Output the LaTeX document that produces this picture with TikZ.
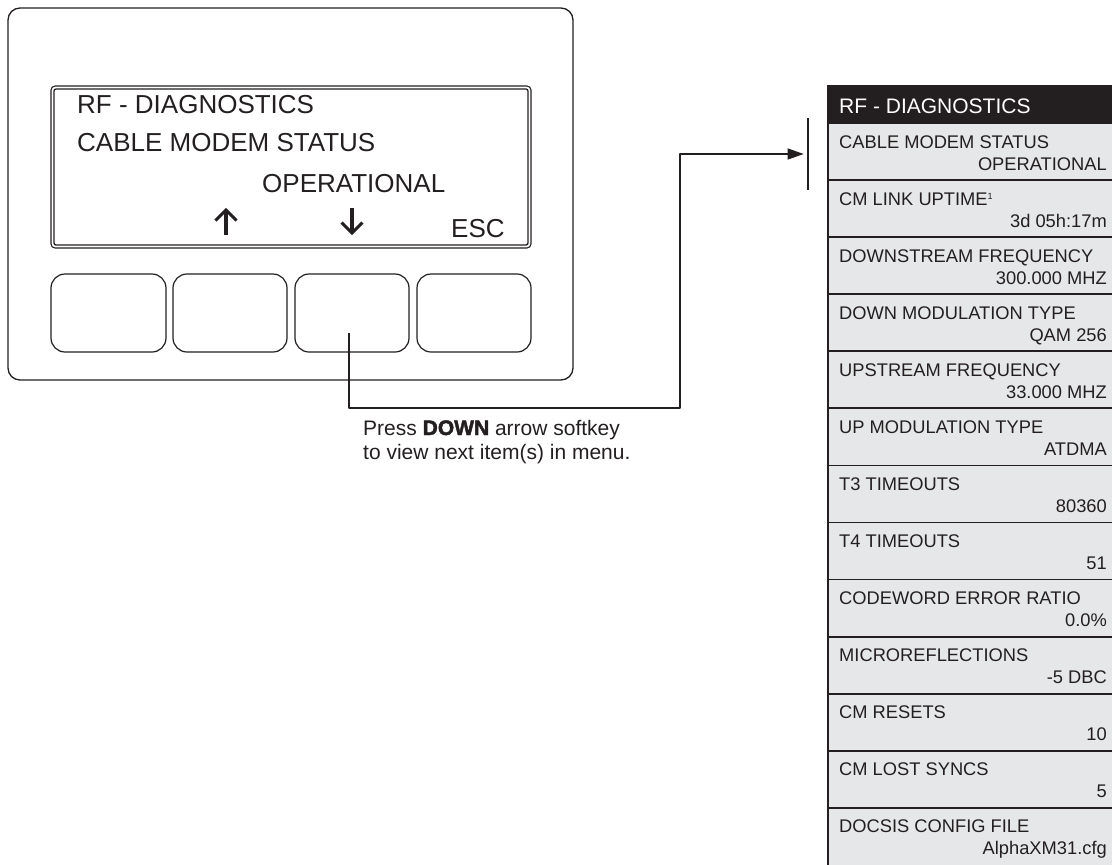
\documentclass[tikz,border=0pt]{standalone}
\usepackage{fontspec}
\setmainfont{Liberation Sans}
\usetikzlibrary{arrows.meta}
\definecolor{ink}{HTML}{231F20}
\definecolor{rowgray}{HTML}{E6E7E8}
\tikzset{
  devline/.style={draw=ink, line width=1.3pt},
  btn/.style={draw=ink, line width=1.2pt, rounded corners=14pt, minimum width=114pt, minimum height=78pt, inner sep=0pt, outer sep=0pt},
  scr/.style={text=ink, font=\fontsize{26}{30}\selectfont, inner sep=0pt},
  arr/.style={draw=ink, line width=3.1pt, line cap=butt, line join=miter},
  conn/.style={draw=ink, line width=1.2pt, -{Triangle[length=16pt,width=11pt]}},
  rowbox/.style={fill=rowgray, draw=none, minimum width=285pt, minimum height=57.07pt, inner sep=0pt, outer sep=0pt, anchor=north west},
  rowtxt/.style={text=ink, font=\fontsize{18.3}{22}\selectfont, inner sep=0pt},
  sep/.style={draw=ink, line width=1.8pt},
  lbltxt/.style={text=ink, font=\fontsize{21}{25}\selectfont, inner sep=0pt, anchor=base west}
}
\begin{document}
\begin{tikzpicture}[x=1pt,y=-1pt,line join=round]
\useasboundingbox (0,0) rectangle (1112,865);
% device
\draw[devline, rounded corners=12pt] (8,8) rectangle (573,380);
% screen double border
\draw[draw=ink, line width=1.1pt, rounded corners=4pt] (51,86) rectangle (531,248);
\draw[draw=ink, line width=1.3pt, rounded corners=2pt] (54,89) rectangle (528,245);
% screen text
\node[scr, anchor=base west] (s1) at (77,113) {RF - DIAGNOSTICS};
\node[scr, anchor=base west] (s2) at (77,151) {CABLE MODEM STATUS};
\node[scr, anchor=base west] (s3) at (262,192) {OPERATIONAL};
\node[scr, anchor=base west] (s4) at (451,237) {ESC};
% up / down arrow symbols
\draw[arr] (226,235) -- (226,210);
\draw[arr] (215.5,220.5) -- (226,210) -- (236.5,220.5);
\draw[arr] (352,208) -- (352,233);
\draw[arr] (341.5,222.5) -- (352,233) -- (362.5,222.5);
% buttons
\node[btn, minimum width=115pt] (b1) at (108.5,313) {};
\node[btn] (b2) at (230,313) {};
\node[btn] (b3) at (352,313) {};
\node[btn] (b4) at (474,313) {};
% right panel
\node[fill=ink, minimum width=285pt, minimum height=38pt, inner sep=0pt, outer sep=0pt, anchor=north west] (hdr) at (827,85) {};
\node[text=white, font=\fontsize{21}{25}\selectfont, inner sep=0pt, anchor=base west] (hdrtxt) at (839,113) {RF - DIAGNOSTICS};
\foreach \lab/\val [count=\i from 0] in {
  {CABLE MODEM STATUS}/{OPERATIONAL},
  {CM LINK UPTIME\raisebox{0.55ex}{\fontsize{9}{9}\selectfont 1}}/{3d 05h:17m},
  {DOWNSTREAM FREQUENCY}/{300.000 MHZ},
  {DOWN MODULATION TYPE}/{QAM 256},
  {UPSTREAM FREQUENCY}/{33.000 MHZ},
  {UP MODULATION TYPE}/{ATDMA},
  {T3 TIMEOUTS}/{80360},
  {T4 TIMEOUTS}/{51},
  {CODEWORD ERROR RATIO}/{0.0\%},
  {MICROREFLECTIONS}/{-5 DBC},
  {CM RESETS}/{10},
  {CM LOST SYNCS}/{5},
  {DOCSIS CONFIG FILE}/{AlphaXM31.cfg}} {
  \node[rowbox] (row\i) at (827,{123+57.07*\i}) {};
  \draw[sep] (row\i.north west) -- (row\i.north east);
  \node[rowtxt, anchor=base west] (lab\i) at ([xshift=12pt,yshift=-25pt]row\i.north west) {\lab};
  \node[rowtxt, anchor=base east] (val\i) at ([xshift=-5pt,yshift=-47pt]row\i.north east) {\val};
}
\draw[sep] (828,122) -- (828,866);
% bar and connector
\node[fill=ink, minimum width=2.6pt, minimum height=72pt, inner sep=0pt, outer sep=0pt] (bar) at (808,154) {};
\coordinate (t1) at (680,408);
\draw[conn, shorten >=3pt] ([xshift=-3pt,yshift=-20pt]b3.center) |- (t1) |- (bar.west);
% caption
\node[lbltxt] (cap1) at (363,435) {Press {\bfseries\addfontfeatures{FakeBold=2}DOWN} arrow softkey};
\node[lbltxt] (cap2) at (363,459) {to view next item(s) in menu.};
\end{tikzpicture}
\end{document}
